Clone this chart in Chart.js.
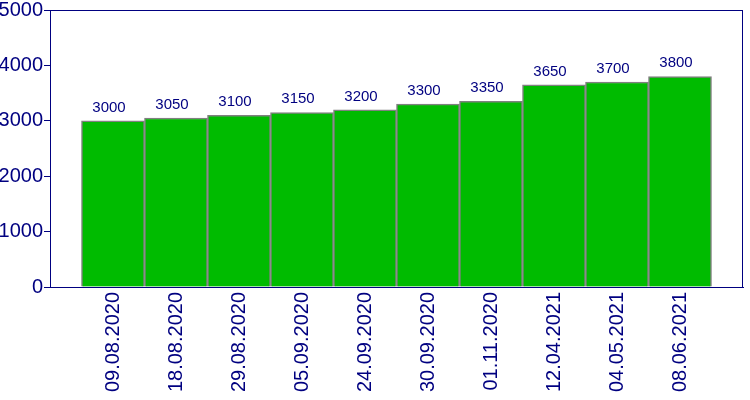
<!DOCTYPE html>
<html>
<head>
<meta charset="utf-8">
<script src="https://cdn.jsdelivr.net/npm/chart.js@4/dist/chart.umd.min.js"></script>
<style>
  html, body { margin: 0; padding: 0; background: #fff; }
  #wrap { width: 750px; height: 400px; }
</style>
</head>
<body>
<div id="wrap"><canvas id="grafico"></canvas></div>
<script>
const fechas = ['09.08.2020', '18.08.2020', '29.08.2020', '05.09.2020', '24.09.2020',
                '30.09.2020', '01.11.2020', '12.04.2021', '04.05.2021', '08.06.2021'];
const valores = [3000, 3050, 3100, 3150, 3200, 3300, 3350, 3650, 3700, 3800];
const ticksY = [0, 1000, 2000, 3000, 4000, 5000];

const azul = '#000080';
const fuente = "'Liberation Sans', Arial, sans-serif";

// half-bar margin on each side of the plot: one empty slot at each end
const etiquetas = ['', ...fechas, ''];
const datos = [null, ...valores, null];

// frame around the plot area + value labels above bars
const marco = {
    id: 'marco',
    afterDatasetsDraw(chart) {
        const ctx = chart.ctx;
        const a = chart.chartArea;
        ctx.save();
        ctx.strokeStyle = azul;
        ctx.lineWidth = 1;
        ctx.strokeRect(a.left + 0.5, a.top + 0.5, a.right - a.left - 1, a.bottom - a.top);

        ctx.fillStyle = azul;
        ctx.font = '15px ' + fuente;
        ctx.textAlign = 'center';
        ctx.textBaseline = 'alphabetic';
        const meta = chart.getDatasetMeta(0);
        meta.data.forEach((barra, i) => {
            const v = datos[i];
            if (v === null) return;
            ctx.fillText(String(v), barra.x - 4, barra.y - 9);
        });
        ctx.restore();
    }
};

new Chart(document.getElementById('grafico'), {
    type: 'bar',
    data: {
        labels: etiquetas,
        datasets: [{
            data: datos,
            backgroundColor: '#00BB00',
            borderColor: '#808080',
            borderWidth: 1.5,
            borderSkipped: 'bottom',
            barPercentage: 1,
            categoryPercentage: 1
        }]
    },
    options: {
        responsive: true,
        maintainAspectRatio: false,
        animation: false,
        layout: { padding: { top: 10, right: 7, left: 0, bottom: 0 } },
        plugins: {
            legend: { display: false },
            tooltip: { enabled: false }
        },
        scales: {
            x: {
                offset: false,
                grid: { display: false, drawTicks: false },
                border: { display: true, color: azul, width: 1 },
                ticks: {
                    color: azul,
                    font: { size: 20, family: fuente },
                    minRotation: 90,
                    maxRotation: 90,
                    padding: 5,
                    autoSkip: false
                },
                afterFit(scale) {
                    scale.height = 113;
                    scale.paddingLeft = 0;
                    scale.paddingRight = 0;
                }
            },
            y: {
                min: 0,
                max: 5000,
                afterBuildTicks(scale) {
                    scale.ticks = ticksY.map(v => ({ value: v }));
                },
                grid: {
                    drawOnChartArea: false,
                    drawTicks: true,
                    tickLength: 6,
                    color: azul
                },
                border: { display: true, color: azul, width: 1 },
                ticks: {
                    color: azul,
                    font: { size: 20, family: fuente },
                    padding: 1,
                    callback: v => String(v)
                },
                afterFit(scale) {
                    scale.width = 50;
                    scale.paddingTop = 0;
                    scale.paddingBottom = 0;
                }
            }
        }
    },
    plugins: [marco]
});
</script>
</body>
</html>
